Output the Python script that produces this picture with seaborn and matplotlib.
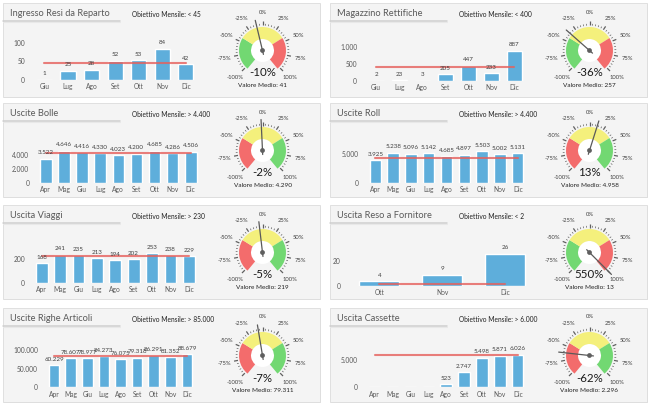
import numpy as np
import pandas as pd
import matplotlib
matplotlib.use("Agg")
import matplotlib.pyplot as plt
import seaborn as sns
from matplotlib.patches import Wedge, Circle, Rectangle
from matplotlib.lines import Line2D

# ---------------- data ----------------
months_giu = ["Giu", "Lug", "Ago", "Set", "Ott", "Nov", "Dic"]
months_apr = ["Apr", "Mag", "Giu", "Lug", "Ago", "Set", "Ott", "Nov", "Dic"]
months_ott = ["Ott", "Nov", "Dic"]

resi_values = [1, 25, 28, 52, 53, 84, 42]
resi_target = 45
resi_mean = 41
resi_pct = -10

rettifiche_values = [2, 23, 3, 205, 447, 233, 887]
rettifiche_target = 400
rettifiche_mean = 257
rettifiche_pct = -36

bolle_values = [3522, 4646, 4416, 4330, 4023, 4200, 4685, 4286, 4506]
bolle_target = 4400
bolle_mean = 4290
bolle_pct = -2

roll_values = [3925, 5238, 5096, 5142, 4685, 4897, 5503, 5002, 5131]
roll_target = 4400
roll_mean = 4958
roll_pct = 13

viaggi_values = [168, 241, 235, 213, 194, 202, 253, 238, 229]
viaggi_target = 230
viaggi_mean = 219
viaggi_pct = -5

reso_values = [4, 9, 26]
reso_target = 2
reso_mean = 13
reso_pct = 550

righe_values = [60229, 78607, 78977, 84273, 76075, 79318, 86291, 81352, 88679]
righe_target = 85000
righe_mean = 79311
righe_pct = -7

cassette_values = [0, 0, 0, 0, 523, 2747, 5498, 5871, 6026]
cassette_target = 6000
cassette_mean = 2296
cassette_pct = -62

titles = ["Ingresso Resi da Reparto", "Magazzino Rettifiche", "Uscite Bolle", "Uscite Roll",
          "Uscita Viaggi", "Uscita Reso a Fornitore", "Uscite Righe Articoli", "Uscita Cassette"]
signs = ["<", "<", ">", ">", ">", "<", ">", ">"]
yticks_list = [[0, 50, 100], [0, 500, 1000], [0, 2000, 4000], [0, 5000], [0, 200], [0, 20],
               [0, 50000, 100000], [0, 5000]]

panels_data = [
    (months_giu, resi_values, resi_target, resi_mean, resi_pct),
    (months_giu, rettifiche_values, rettifiche_target, rettifiche_mean, rettifiche_pct),
    (months_apr, bolle_values, bolle_target, bolle_mean, bolle_pct),
    (months_apr, roll_values, roll_target, roll_mean, roll_pct),
    (months_apr, viaggi_values, viaggi_target, viaggi_mean, viaggi_pct),
    (months_ott, reso_values, reso_target, reso_mean, reso_pct),
    (months_apr, righe_values, righe_target, righe_mean, righe_pct),
    (months_apr, cassette_values, cassette_target, cassette_mean, cassette_pct),
]

# ---------------- layout (pixels) ----------------
W, H = 654, 409
panel_origin = [(3, 3), (330, 3), (3, 103), (330, 103), (3, 205), (330, 205), (3, 308), (330, 308)]
panel_size = (317, 94)
# bar axes: left, right (rel), baseline (rel), px per unit
bar_layout = [
    (29.7, 194.6, 77.0, 0.37),
    (34.7, 196.0, 78.0, 0.034),
    (33.8, 196.8, 79.5, 0.0068),
    (36.4, 196.7, 79.7, 0.0057),
    (29.5, 195.0, 77.7, 0.116),
    (18.0, 206.4, 81.0, 1.25),
    (42.7, 192.3, 79.3, 0.00037),
    (35.7, 196.7, 79.3, 0.0054),
]
BAR_TOP = 22
GAUGE_C = (259.5, 47.5)

sns.set_theme(style="white")
plt.rcParams['font.family'] = ['Lato', 'DejaVu Sans']

BAR_COLOR = "#5eaedb"
LINE_COLOR = "#e5605c"
TXT = "#404040"
GREEN, YELLOW, RED = "#72d872", "#f4f07c", "#f36c6c"

fig = plt.figure(figsize=(W / 100, H / 100), dpi=100)
fig.patch.set_facecolor("white")


def fig_rect(x, y, w, h):
    return [x / W, 1 - (y + h) / H, w / W, h / H]


def fmt(v):
    return f"{int(v):,}".replace(",", ".")


bg = fig.add_axes([0, 0, 1, 1])
bg.set_xlim(0, W)
bg.set_ylim(H, 0)
bg.axis("off")

for i, (months, vals, target, mean, pct) in enumerate(panels_data):
    x0, y0 = panel_origin[i]
    pw, ph = panel_size
    bg.add_patch(Rectangle((x0 + 1, y0 + 1), pw, ph, facecolor="#e6e6e6", edgecolor="none", zorder=0))
    bg.add_patch(Rectangle((x0, y0), pw, ph, facecolor="#f4f4f4", edgecolor="#dcdcdc", lw=0.6, zorder=1))
    bg.add_line(Line2D([x0, x0 + 117], [y0 + 18, y0 + 18], color="#cfcfcf", lw=1.1, zorder=2))
    bg.add_line(Line2D([x0, x0 + 117], [y0 + 19.2, y0 + 19.2], color="#e8e8e8", lw=0.8, zorder=2))
    bg.text(x0 + 7, y0 + 10.5, titles[i], fontsize=6.7, color="#595959", va="center", ha="left", zorder=3)
    bg.text(x0 + 129, y0 + 11.5, f"Obiettivo Mensile: {signs[i]} {fmt(target)}", fontsize=4.8,
            color="#202020", va="center", ha="left", zorder=3)

    # ---- bar chart ----
    lrel, rrel, base, ppu = bar_layout[i]
    ax = fig.add_axes(fig_rect(x0 + lrel, y0 + BAR_TOP, rrel - lrel, base - BAR_TOP))
    df = pd.DataFrame({"mese": months, "valore": vals})
    sns.barplot(data=df, x="mese", y="valore", color=BAR_COLOR, saturation=1, width=0.64, ax=ax, zorder=2)
    n = len(months)
    sns.lineplot(x=np.arange(n), y=[target] * n, color=LINE_COLOR, lw=1.5, alpha=0.8, ax=ax, zorder=3)
    ax.set_xlim(-0.5, n - 0.5)
    ax.set_ylim(0, (base - BAR_TOP) / ppu)
    ax.set_yticks(yticks_list[i])
    ax.set_yticklabels([fmt(t) for t in yticks_list[i]])
    ax.set_xlabel("")
    ax.set_ylabel("")
    ax.tick_params(axis="both", length=0, labelsize=4.8, labelcolor="#595959")
    ax.tick_params(axis="x", pad=2.5)
    ax.tick_params(axis="y", pad=5.5)
    ax.patch.set_alpha(0)
    for s in ax.spines.values():
        s.set_visible(False)
    labels = [fmt(v) if v != 0 else "" for v in vals]
    ax.bar_label(ax.containers[0], labels=labels, fontsize=4.5, color=TXT, padding=2.5)

    # ---- gauge ----
    cx, cy = x0 + GAUGE_C[0], y0 + GAUGE_C[1]
    gx = fig.add_axes(fig_rect(cx - 60, cy - 50, 120, 100))
    gx.set_xlim(-60, 60)
    gx.set_ylim(-50, 50)
    gx.axis("off")
    lower_better = signs[i] == "<"

    def ang(p):
        return 90 - p * 1.35

    if lower_better:
        bands = [(-104, -43, GREEN), (-43, 43, YELLOW), (43, 104, RED)]
    else:
        bands = [(-104, -43, RED), (-43, 43, YELLOW), (43, 104, GREEN)]
    R_in, R_out = 11.5, 23.5
    gx.add_patch(Circle((0, 0), R_in, facecolor="white", edgecolor="none", zorder=1))
    for p1, p2, c in bands:
        gx.add_patch(Wedge((0, 0), R_out, ang(p2), ang(p1), width=R_out - R_in, facecolor=c,
                           edgecolor="none", zorder=2))
    for p in range(-100, 101, 5):
        a = np.deg2rad(ang(p))
        if p % 25 == 0:
            r1, r2, lw = 25, 29, 0.9
        else:
            r1, r2, lw = 25, 26.8, 0.5
        gx.plot([r1 * np.cos(a), r2 * np.cos(a)], [r1 * np.sin(a), r2 * np.sin(a)], color="#606060",
                lw=lw, solid_capstyle="butt", zorder=3)
        if p % 25 == 0:
            gx.text(38.5 * np.cos(a), 38.5 * np.sin(a), f"{p}%", fontsize=4.2, color=TXT,
                    ha="center", va="center")
    pc = max(-100, min(100, pct))
    a = np.deg2rad(ang(pc))
    gx.plot([-4 * np.cos(a), 31 * np.cos(a)], [-4 * np.sin(a), 31 * np.sin(a)], color="#5a5a5a",
            lw=0.9, zorder=5)
    gx.add_patch(Circle((0, 0), 2.4, facecolor="#5f5f5f", edgecolor="none", zorder=6))
    gx.text(0, -22.5, f"{pct}%", fontsize=8.3, color="#1a1a1a", ha="center", va="center", zorder=7)
    gx.text(0, -35, f"Valore Medio: {fmt(mean)}", fontsize=4.6, color="#202020", ha="center",
            va="center", zorder=7)

fig.savefig("out.png", dpi=100, facecolor="white")
